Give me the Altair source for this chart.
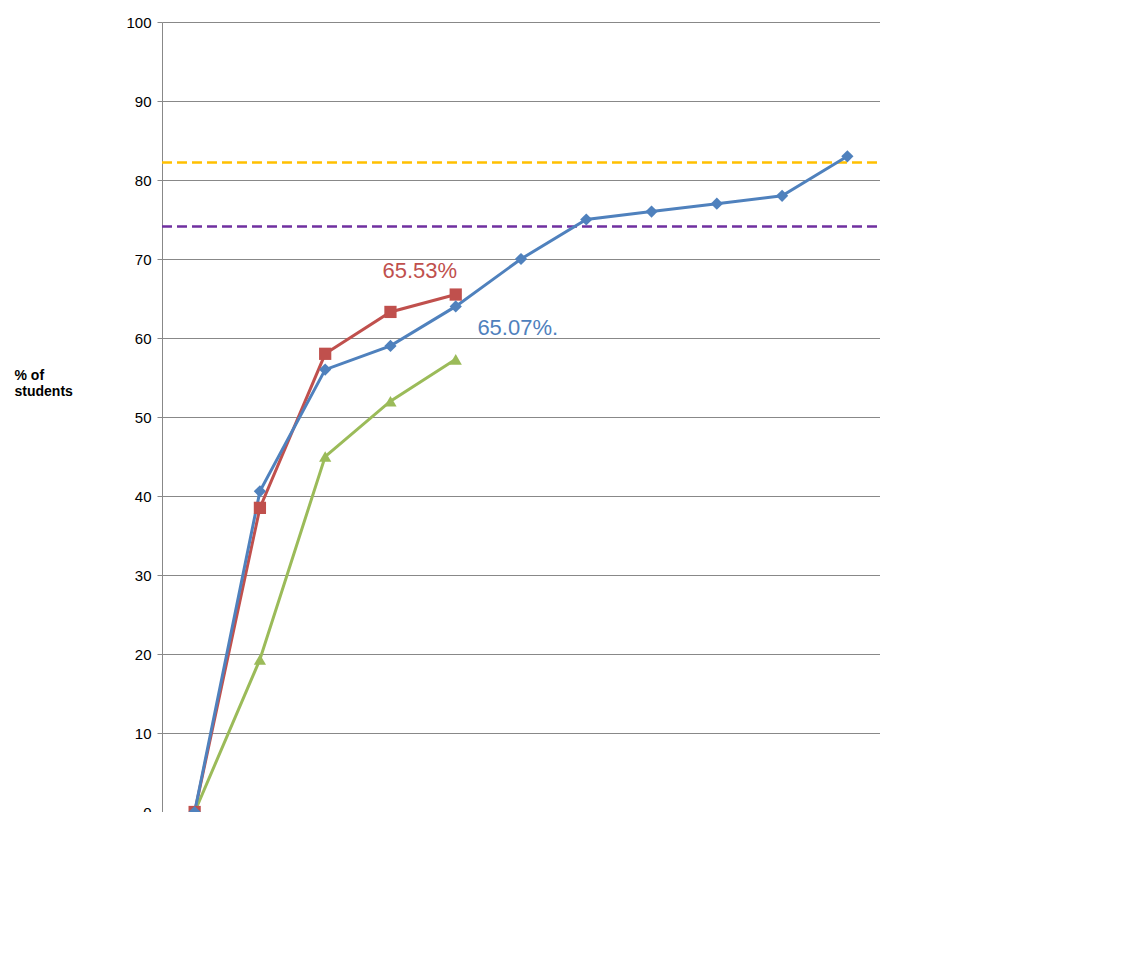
import pandas as pd
import altair as alt

steps = list(range(11))
econ_2015 = [0, 38.5, 58, 63.3, 65.5]
warwick_2015 = [0, 19.3, 45, 52, 57.3]
econ_2014 = [0, 40.6, 56, 59, 64, 70, 75, 76, 77, 78, 83]
series = ["Economics students NSS2015", "Warwick NSS2015", "Economics students NSS2014"]
colors = ["#c0504d", "#9bbb59", "#4f81bd"]
shapes = ["square", "triangle-up", "diamond"]
targets = [82.2, 74.1]
target_colors = ["#ffc000", "#7030a0"]

rows = []
for name, vals in zip(series, [econ_2015, warwick_2015, econ_2014]):
    for s, v in zip(steps, vals):
        rows.append({"step": s, "pct": v, "series": name})
df = pd.DataFrame(rows)

F = "Liberation Sans"
x = alt.X("step:Q", scale=alt.Scale(domain=[-0.5, 10.5], nice=False),
          axis=alt.Axis(values=steps, title=None, grid=False, ticks=False,
                        labelFontSize=14, labelFont=F, labelColor="black",
                        domainColor="#888", labelPadding=10))
y = alt.Y("pct:Q", scale=alt.Scale(domain=[0, 100]),
          axis=alt.Axis(values=list(range(0, 101, 10)), title=["% of", "students"],
                        titleAngle=0, titleX=-148, titleY=360, titleAlign="left",
                        titleFontSize=14, titleFont=F, titleFontWeight="bold",
                        labelFontSize=15, labelFont=F, labelColor="black",
                        gridColor="#888", domainColor="#888", tickColor="#888",
                        labelPadding=6))

scale_c = alt.Scale(domain=series, range=colors)
scale_s = alt.Scale(domain=series, range=shapes)
leg = alt.Legend(title=None, orient="none", legendX=-150, legendY=880, direction="horizontal",
                 labelFontSize=19, labelFont=F, labelColor="black", symbolSize=150,
                 columnPadding=30, labelLimit=400)

lines = alt.Chart(df).mark_line(strokeWidth=3).encode(
    x=x, y=y, color=alt.Color("series:N", scale=scale_c, legend=None), detail="series:N")
points = alt.Chart(df).mark_point(filled=True, size=150, opacity=1).encode(
    x="step:Q", y="pct:Q",
    color=alt.Color("series:N", scale=scale_c, legend=leg),
    shape=alt.Shape("series:N", scale=scale_s, legend=leg))

tdf = pd.DataFrame({"pct": targets, "c": target_colors})
rules = alt.Chart(tdf).mark_rule(strokeDash=[10, 5], strokeWidth=2.5).encode(
    y="pct:Q", x=alt.value(0), x2=alt.value(718), color=alt.Color("c:N", scale=None))

ann = pd.DataFrame({"step": [3.45, 4.95], "pct": [68.5, 61.3],
                    "t": ["65.53%", "65.07%."], "c": ["#c0504d", "#4f81bd"]})
ann_text = alt.Chart(ann).mark_text(fontSize=22, font=F, align="center").encode(
    x="step:Q", y="pct:Q", text="t:N", color=alt.Color("c:N", scale=None))

side = pd.DataFrame({"px": [808, 800], "py": [138, 200], "t": ["83%+", "75%"]})
side_text = alt.Chart(side).mark_text(fontSize=17, font=F, fontWeight="bold",
                                       color="#00a0f0", align="center").encode(
    x=alt.X("px:Q", scale=None), y=alt.Y("py:Q", scale=None), text="t:N")

grad = pd.DataFrame({"px": [900, 860, 912], "py": [194, 224, 224],
                     "t": ["graduation", "ball", "2015"],
                     "c": ["black", "black", "#7f1010"],
                     "st": ["italic", "italic", "normal"]})
grad_a = alt.Chart(grad[grad.st == "italic"]).mark_text(
    fontSize=22, font="DejaVu Serif", fontStyle="italic", align="center").encode(
    x=alt.X("px:Q", scale=None), y=alt.Y("py:Q", scale=None), text="t:N",
    color=alt.Color("c:N", scale=None))
grad_b = alt.Chart(grad[grad.st == "normal"]).mark_text(
    fontSize=22, font="Liberation Serif", align="center").encode(
    x=alt.X("px:Q", scale=None), y=alt.Y("py:Q", scale=None), text="t:N",
    color=alt.Color("c:N", scale=None))

chart = alt.layer(rules, lines, points, ann_text, side_text, grad_a, grad_b).properties(
    width=718, height=790,
    autosize=alt.AutoSizeParams(type="none"),
    padding={"left": 154, "top": 14, "right": 0, "bottom": 0},
).configure_view(stroke=None)

chart.save("out.html", embed_options={"renderer": "svg", "actions": False})
